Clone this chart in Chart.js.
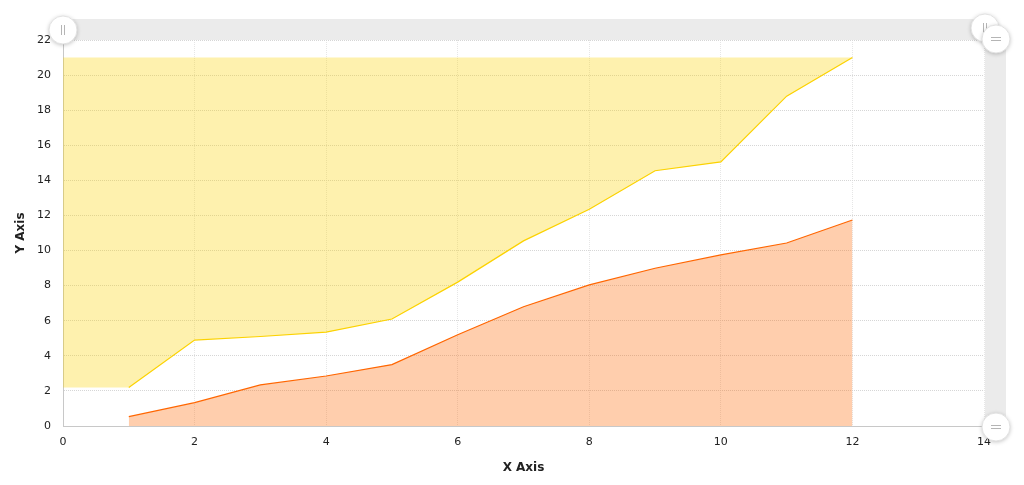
<!DOCTYPE html>
<html>
<head>
<meta charset="utf-8">
<script src="https://cdn.jsdelivr.net/npm/chart.js@4/dist/chart.umd.min.js"></script>
<style>
html,body{margin:0;padding:0;background:#fff;}
#wrap{width:1024px;height:485px;position:relative;}
</style>
</head>
<body>
<div id="wrap"><canvas id="c" width="1024" height="485"></canvas></div>
<script>
const xValues = [1, 2, 3, 4, 5, 6, 7, 8, 9, 10, 11, 12];
const yellowValues = [2.2, 4.9, 5.1, 5.35, 6.1, 8.2, 10.55, 12.35, 14.55, 15.05, 18.8, 21.0];
const orangeValues = [0.53, 1.33, 2.34, 2.85, 3.5, 5.2, 6.8, 8.04, 8.99, 9.75, 10.43, 11.74];
const yellowBandStartX = 0;
const yellowTop = 21;
const xTicks = [0, 2, 4, 6, 8, 10, 12, 14];
const yTicks = [0, 2, 4, 6, 8, 10, 12, 14, 16, 18, 20, 22];

const FONT = "'DejaVu Sans', Verdana, sans-serif";

function pts(xs, ys) { return xs.map((x, i) => ({x: x, y: ys[i]})); }

const yellowFillData = [{x: yellowBandStartX, y: yellowValues[0]}].concat(pts(xValues, yellowValues));

const scrollPlugin = {
  id: 'scrollbars',
  afterDraw(chart) {
    const ctx = chart.ctx, a = chart.chartArea;
    ctx.save();
    ctx.fillStyle = '#ebebeb';
    ctx.fillRect(a.left, a.top - 21, a.right - a.left, 21);
    ctx.fillRect(a.right + 1, a.top - 10, 21, a.bottom - a.top + 10);
    function grip(cx, cy, kind) {
      ctx.save();
      ctx.shadowColor = 'rgba(0,0,0,0.25)';
      ctx.shadowBlur = 4;
      ctx.shadowOffsetY = 1;
      ctx.beginPath();
      ctx.arc(cx, cy, 14, 0, Math.PI * 2);
      ctx.fillStyle = '#fff';
      ctx.fill();
      ctx.restore();
      ctx.strokeStyle = '#e2e2e2';
      ctx.lineWidth = 1;
      ctx.beginPath();
      ctx.arc(cx, cy, 14, 0, Math.PI * 2);
      ctx.stroke();
      ctx.strokeStyle = '#b5b5b5';
      ctx.beginPath();
      if (kind === 'v') {
        ctx.moveTo(cx - 1.5, cy - 5); ctx.lineTo(cx - 1.5, cy + 5);
        ctx.moveTo(cx + 1.5, cy - 5); ctx.lineTo(cx + 1.5, cy + 5);
      } else {
        ctx.moveTo(cx - 5, cy - 1.5); ctx.lineTo(cx + 5, cy - 1.5);
        ctx.moveTo(cx - 5, cy + 1.5); ctx.lineTo(cx + 5, cy + 1.5);
      }
      ctx.stroke();
    }
    grip(a.left, a.top - 10, 'v');
    grip(a.right + 1, a.top - 12, 'v');
    grip(a.right + 12, a.top - 1, 'h');
    grip(a.right + 12, a.bottom + 1, 'h');
    ctx.restore();
  }
};

new Chart(document.getElementById('c'), {
  type: 'scatter',
  data: {
    datasets: [
      {
        data: yellowFillData,
        showLine: true,
        borderWidth: 0,
        borderColor: 'rgba(0,0,0,0)',
        pointRadius: 0,
        backgroundColor: 'rgba(252,210,2,0.32)',
        fill: {value: yellowTop}
      },
      {
        data: pts(xValues, yellowValues),
        showLine: true,
        borderColor: '#FCD202',
        borderWidth: 1.2,
        pointRadius: 0,
        fill: false
      },
      {
        data: pts(xValues, orangeValues),
        showLine: true,
        borderColor: '#FF6600',
        borderWidth: 1.2,
        pointRadius: 0,
        backgroundColor: 'rgba(255,102,0,0.32)',
        fill: 'origin'
      }
    ]
  },
  options: {
    responsive: false,
    animation: false,
    layout: {padding: {left: 0, right: 40, top: 40, bottom: 0}},
    plugins: {legend: {display: false}, tooltip: {enabled: false}},
    scales: {
      x: {
        type: 'linear',
        min: 0, max: 14,
        afterBuildTicks: s => { s.ticks = xTicks.map(v => ({value: v})); },
        afterFit: s => { s.height = 59; },
        grid: {color: '#e6e6e6', drawTicks: false, lineWidth: 1},
        border: {display: true, color: '#c8c8c8', dash: [1, 1]},
        ticks: {color: '#222', font: {family: FONT, size: 11}, padding: 10},
        title: {display: true, text: 'X Axis', color: '#222', font: {family: FONT, size: 12, weight: 'bold'}, padding: {top: 4, bottom: 10}}
      },
      y: {
        type: 'linear',
        min: 0, max: 22,
        afterBuildTicks: s => { s.ticks = yTicks.map(v => ({value: v})); },
        afterFit: s => { s.width = 63; },
        grid: {color: '#d6d6d6', drawTicks: false, lineWidth: 1},
        border: {display: true, color: '#c8c8c8', dash: [1, 1]},
        ticks: {color: '#222', font: {family: FONT, size: 11}, padding: 12},
        title: {display: true, text: 'Y Axis', color: '#222', font: {family: FONT, size: 12, weight: 'bold'}, padding: {top: 14, bottom: 0}}
      }
    }
  },
  plugins: [scrollPlugin]
});
</script>
</body>
</html>
